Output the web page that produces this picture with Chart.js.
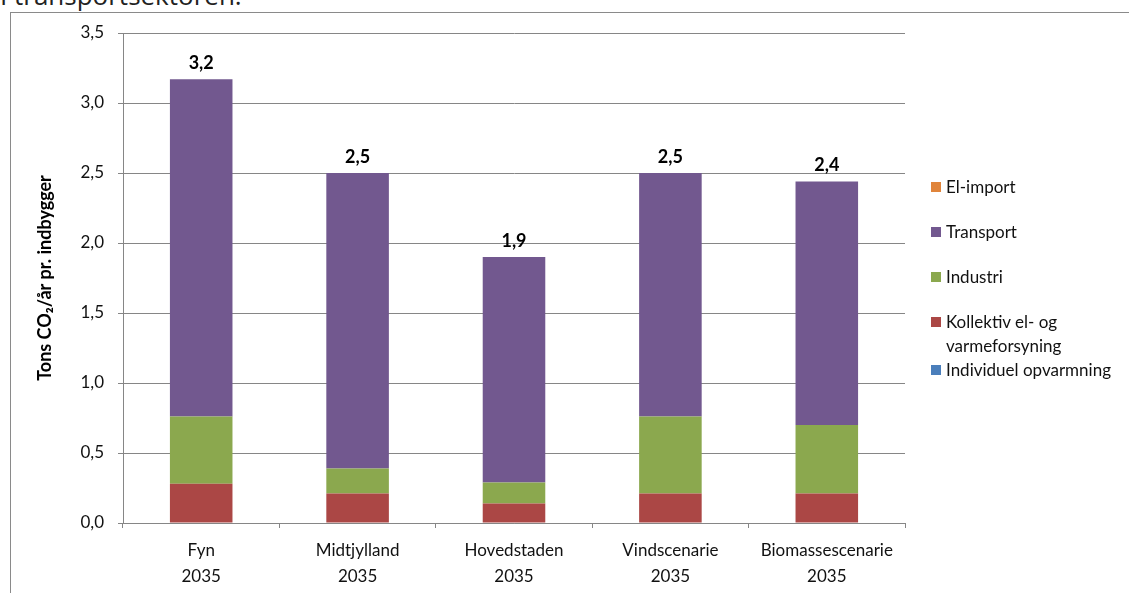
<!DOCTYPE html>
<html><head><meta charset="utf-8">
<script src="https://cdn.jsdelivr.net/npm/chart.js@4"></script>
<style>
html,body{margin:0;padding:0;width:1129px;height:593px;overflow:hidden;background:#fff;font-family:Lato,"Open Sans",sans-serif;}
#frame{position:absolute;left:10px;top:12px;width:1200px;height:700px;border:1px solid #8a8a8a;box-sizing:border-box;}
#cap{position:absolute;left:0;top:-20px;font-family:"Open Sans",sans-serif;font-size:26px;line-height:30px;color:#222;white-space:nowrap;}
#wrap{position:absolute;left:0;top:0;width:1129px;height:593px;}
#legend{position:absolute;left:0;top:0;}
.li{position:absolute;font-size:17px;line-height:24px;color:#111;white-space:nowrap;}
.sw{position:absolute;width:10px;height:10px;}
</style></head>
<body>
<div id="cap">I transportsektoren.</div>
<div id="frame"></div>
<div id="wrap"><canvas id="c" width="1129" height="593"></canvas></div>
<div id="legend"></div>
<script>
const categories = [["Fyn","2035"],["Midtjylland","2035"],["Hovedstaden","2035"],["Vindscenarie","2035"],["Biomassescenarie","2035"]];
const individuelOpvarmning = [0, 0, 0, 0, 0];
const kollektivElVarme = [0.28, 0.21, 0.14, 0.21, 0.21];
const industri = [0.48, 0.18, 0.15, 0.55, 0.49];
const transport = [2.41, 2.11, 1.61, 1.74, 1.74];
const elImport = [0, 0, 0, 0, 0];
const yTicks = [0, 0.5, 1.0, 1.5, 2.0, 2.5, 3.0, 3.5];

const FONT = 'Lato,"Open Sans",sans-serif';

const series = [
  {label:"Individuel opvarmning", data:individuelOpvarmning, color:"#4A7EBB"},
  {label:"Kollektiv el- og varmeforsyning", data:kollektivElVarme, color:"#AB4745", legendLines:["Kollektiv el- og","varmeforsyning"]},
  {label:"Industri", data:industri, color:"#8BA84E"},
  {label:"Transport", data:transport, color:"#72588F"},
  {label:"El-import", data:elImport, color:"#E0843B"}
];

const fmt = v => v.toFixed(1).replace('.', ',');

const totalsPlugin = {
  id:'totals',
  afterDatasetsDraw(chart){
    const ctx = chart.ctx;
    const y = chart.scales.y, x = chart.scales.x;
    ctx.save();
    ctx.font = 'bold 18px ' + FONT;
    ctx.fillStyle = '#000';
    ctx.textAlign = 'center';
    ctx.textBaseline = 'middle';
    categories.forEach((c,i)=>{
      const tot = series.reduce((s,d)=>s+d.data[i],0);
      ctx.fillText(fmt(tot), x.getPixelForValue(i), y.getPixelForValue(tot)-16);
    });
    ctx.restore();
  }
};

const chart = new Chart(document.getElementById('c'), {
  type:'bar',
  data:{
    labels:categories,
    datasets:series.map(s=>({label:s.label, data:s.data, backgroundColor:s.color, borderWidth:0, categoryPercentage:1.0, barPercentage:0.4}))
  },
  options:{
    responsive:false, animation:false,
    layout:{padding:{left:0,right:224,top:33,bottom:0}},
    plugins:{legend:{display:false}, tooltip:{enabled:false}},
    scales:{
      x:{
        stacked:true,
        grid:{display:true, drawOnChartArea:false, offset:true, color:'#868686', tickLength:5, tickColor:'#868686'},
        border:{display:true, color:'#868686'},
        ticks:{color:'#111', font:{size:17, family:FONT, lineHeight:1.5}, padding:10, maxRotation:0, autoSkip:false},
        afterFit(s){ s.height = 70; }
      },
      y:{
        stacked:true, min:0, max:3.5,
        afterBuildTicks(s){ s.ticks = yTicks.map(v=>({value:v})); },
        grid:{color:'#868686', tickLength:5, tickColor:'#868686'},
        border:{display:true, color:'#868686'},
        ticks:{color:'#111', font:{size:17, family:FONT}, padding:14, callback:v=>fmt(v)},
        title:{display:true, text:'Tons CO₂/år pr. indbygger', color:'#000', font:{size:18, weight:'bold', family:FONT}, padding:{top:34,bottom:0}},
        afterFit(s){ s.width = 123; }
      }
    }
  },
  plugins:[totalsPlugin]
});

const legendPos = [
  {label:"El-import", top:175},
  {label:"Transport", top:220},
  {label:"Industri", top:265},
  {label:"Kollektiv el- og varmeforsyning", top:310},
  {label:"Individuel opvarmning", top:358}
];
const leg = document.getElementById('legend');
legendPos.forEach(p=>{
  const s = series.find(d=>d.label===p.label);
  const sw = document.createElement('div');
  sw.className='sw'; sw.style.background=s.color; sw.style.left='931px'; sw.style.top=(p.top+7)+'px';
  leg.appendChild(sw);
  const t = document.createElement('div');
  t.className='li'; t.style.left='946px'; t.style.top=p.top+'px';
  t.innerHTML = (s.legendLines||[s.label]).join('<br>');
  leg.appendChild(t);
});
</script>
</body></html>
